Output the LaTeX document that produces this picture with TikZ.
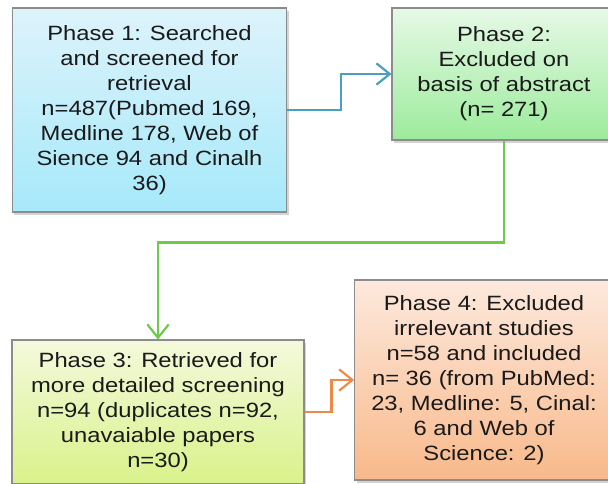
\documentclass[tikz,border=0pt]{standalone}
\usepackage{fontspec}
\setmainfont[FakeStretch=1.15]{Liberation Sans}
\usepackage{tikz}
\usetikzlibrary{arrows.meta,shadows}

\definecolor{boxline}{HTML}{8C8C8C}
\definecolor{txt}{HTML}{1A1A1A}
\definecolor{bluetop}{HTML}{DDF3FB}
\definecolor{bluebot}{HTML}{A6E9FA}
\definecolor{greentop}{HTML}{E6F9E6}
\definecolor{greenbot}{HTML}{9CEB9C}
\definecolor{limetop}{HTML}{F4F9DC}
\definecolor{limebot}{HTML}{D9F28A}
\definecolor{orangetop}{HTML}{FDE9DD}
\definecolor{orangebot}{HTML}{F8B98A}
\definecolor{bluearrow}{HTML}{4A9FBF}
\definecolor{greenarrow}{HTML}{6CCB4A}
\definecolor{orangearrow}{HTML}{EE8A45}

\begin{document}
\begin{tikzpicture}[x=0.75pt,y=-0.75pt,
    phasebox/.style={draw=boxline, line width=0.8pt, text=txt, align=center,
        font=\fontsize{15.5}{18.75}\selectfont, inner sep=0pt,
        drop shadow={opacity=0.35, shadow xshift=1.5pt, shadow yshift=-2pt}},
    flow/.style={line width=1.6pt, -{Straight Barb[length=10pt,width=16pt,line width=1.6pt]}}]
    \useasboundingbox (0,0) rectangle (608,483);

    % Phase 1
    \node[phasebox, top color=bluetop, bottom color=bluebot,
        minimum width=206pt, minimum height=153pt] (p1) at (149.5,110)
        {Phase 1: Searched\\and screened for\\retrieval\\n=487(Pubmed 169,\\Medline 178, Web of\\Sience 94 and Cinalh\\36)};

    % Phase 2
    \node[phasebox, top color=greentop, bottom color=greenbot,
        minimum width=168pt, minimum height=99pt] (p2) at (504,74)
        {Phase 2:\\Excluded on\\basis of abstract\\(n= 271)};

    % Phase 3
    \node[phasebox, top color=limetop, bottom color=limebot,
        minimum width=219pt, minimum height=108pt] (p3) at (158,412)
        {Phase 3: Retrieved for\\more detailed screening\\n=94 (duplicates n=92,\\unavaiable papers\\n=30)};

    % Phase 4
    \node[phasebox, top color=orangetop, bottom color=orangebot,
        minimum width=194pt, minimum height=150pt] (p4) at (484,380)
        {Phase 4: Excluded\\irrelevant studies\\n=58 and included\\n= 36 (from PubMed:\\23, Medline: 5, Cinal:\\6 and Web of\\Science: 2)};

    % connectors
    \draw[flow, bluearrow] (p1.east) -- ++(54,0) |- (p2.west);
    \draw[flow, greenarrow] (p2.south) -- ++(0,102) -| (p3.north);
    \draw[flow, orangearrow] (p3.east) -- ++(27,0) |- (p4.west);
\end{tikzpicture}
\end{document}
